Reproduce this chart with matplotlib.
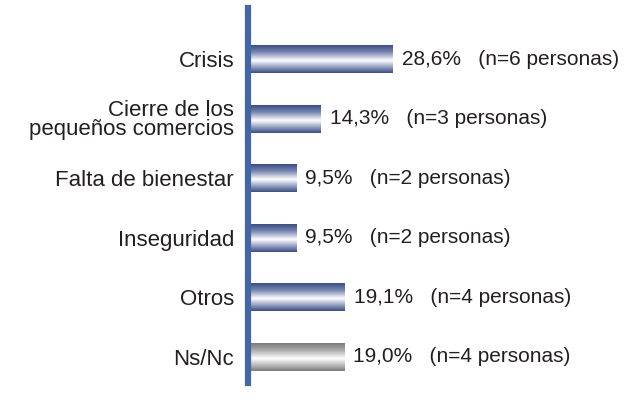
import numpy as np
import matplotlib.pyplot as plt
from matplotlib.colors import LinearSegmentedColormap

plt.rcParams['font.family'] = ['Liberation Sans', 'DejaVu Sans']

categories = ['Crisis', 'Cierre de los\npequeños comercios', 'Falta de bienestar',
              'Inseguridad', 'Otros', 'Ns/Nc']
values = [28.6, 14.3, 9.5, 9.5, 19.1, 19.0]
value_labels = ['28,6%', '14,3%', '9,5%', '9,5%', '19,1%', '19,0%']
counts = [6, 3, 2, 2, 4, 4]

blue_cmap = LinearSegmentedColormap.from_list(
    'bluebar', [(0, '#3a4e86'), (0.25, '#7886b0'), (0.55, '#ffffff'), (0.78, '#97a2c3'), (1, '#3a4e86')])
gray_cmap = LinearSegmentedColormap.from_list(
    'graybar', [(0, '#7a7a7a'), (0.25, '#ababab'), (0.55, '#ffffff'), (0.78, '#bdbdbd'), (1, '#7c7c7c')])

fig = plt.figure(figsize=(6.27, 4.12), dpi=100)
ax = fig.add_axes([0.3955, 0.0704, 0.6045, 0.9102])

ypos = np.arange(len(categories))
bar_h = 0.47
bars = ax.barh(ypos, values, height=bar_h, color='none', edgecolor='none')

grad = np.linspace(0, 1, 100).reshape(-1, 1)
for i, (b, v) in enumerate(zip(bars, values)):
    cmap = gray_cmap if categories[i] == 'Ns/Nc' else blue_cmap
    y0 = ypos[i] - bar_h / 2
    y1 = ypos[i] + bar_h / 2
    im = ax.imshow(grad, cmap=cmap, aspect='auto', extent=(0, v, y1, y0),
                   origin='upper', interpolation='bicubic', zorder=2)
    im.set_clip_path(b)
    ax.text(v + 1.8, ypos[i], value_labels[i] + '   (n=%d personas)' % counts[i],
            va='center', ha='left', fontsize=15, color='#231f20')

ax.set_xlim(0, 74.8)
ax.set_ylim(5.44, -0.86)
ax.set_yticks(ypos)
ax.set_yticklabels(categories, fontsize=16, color='#231f20', linespacing=0.85)
ax.set_xticks([])
ax.tick_params(axis='y', length=0, pad=10)
for s in ['top', 'right', 'bottom']:
    ax.spines[s].set_visible(False)
ax.spines['left'].set_color('#4466a3')
ax.spines['left'].set_linewidth(4.5)

fig.savefig('out.png', dpi=100)
